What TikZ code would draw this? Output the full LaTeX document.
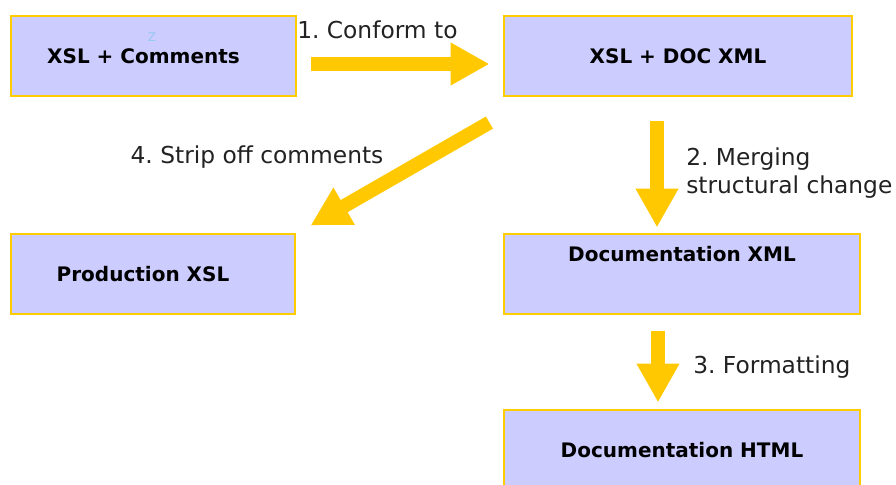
\documentclass[tikz,border=0pt]{standalone}
\usepackage{fontspec}
\setmainfont{DejaVu Sans}
\usetikzlibrary{arrows.meta}

\definecolor{boxfill}{RGB}{204,204,255}
\definecolor{boxline}{RGB}{255,204,0}
\definecolor{arrowyellow}{RGB}{255,200,0}
\definecolor{labelgray}{RGB}{34,34,34}
\definecolor{zblue}{RGB}{150,200,240}

\tikzset{
  stagebox/.style={draw=boxline, fill=boxfill, line width=0.9pt, inner sep=0pt,
    minimum height=60pt, font=\bfseries\fontsize{15}{18}\selectfont},
  flowarrow/.style={draw=arrowyellow, line width=10.5pt,
    -{Triangle[length=29pt,width=30pt]}},
  steplabel/.style={inner sep=0.75pt, text=labelgray, font=\frenchspacing\fontsize{17.5}{21}\selectfont}
}

\begin{document}
\begin{tikzpicture}[x=0.75pt,y=0.75pt,yscale=-1.,xscale=1.]
    \clip (0,0) rectangle (896,485); %picture is 896 x 485

    %Shape: Rectangle [id:xslcomments]
    \node [stagebox, minimum width=213.75pt] (xslc) at (153.5,56) {XSL + Comments\kern15pt\null};
    % Text Node
    \node [inner sep=0pt, text=zblue, font=\fontsize{9}{10}\selectfont] (zmark) at (152,37) {Z};
    %Shape: Rectangle [id:xsldoc]
    \node [stagebox, minimum width=261pt] (xsldoc) at (678,56) {XSL + DOC XML};
    %Shape: Rectangle [id:prodxsl]
    \node [stagebox, minimum width=213pt] (prod) at (153,274) {Production XSL\kern15pt\null};
    %Shape: Rectangle [id:docxml]
    \node [stagebox, minimum width=267pt, align=center] (docxml) at (682,274) {Documentation XML\\[12pt]~};
    %Shape: Rectangle [id:dochtml]
    \node [stagebox, minimum width=267pt] (dochtml) at (682,450) {Documentation HTML};

    %Straight Lines [id:conform]
    \draw [flowarrow] ([shift={(14,8)}]xslc.east) -- ([shift={(-14,8)}]xsldoc.west) ;
    %Straight Lines [id:merging]
    \draw [flowarrow] ([shift={(-21,24)}]xsldoc.south) -- ([shift={(-25,-6)}]docxml.north) ;
    %Straight Lines [id:formatting]
    \draw [flowarrow] ([shift={(-24,16)}]docxml.south) -- ([shift={(-24,-7)}]dochtml.north) ;
    %Straight Lines [id:strip]
    \draw [flowarrow] ([shift={(-14,26)}]xsldoc.south west) -- ([shift={(15,-8)}]prod.north east) ;

    % Text Node
    \node [steplabel, anchor=west] (lconform) at (296,30) {1. Conform to};
    % Text Node
    \node [steplabel, anchor=north west, align=left] (lmerging) at (685,147) {2. Merging\\structural change};
    % Text Node
    \node [steplabel, anchor=west] (lformat) at (692,367) {3. Formatting};
    % Text Node
    \node [steplabel] (lstrip) at (257,157) {4. Strip off comments};

\end{tikzpicture}
\end{document}
